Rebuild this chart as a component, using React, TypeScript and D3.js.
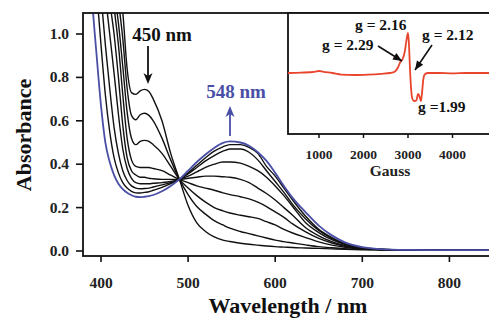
import React, { useEffect, useRef } from "react";
import * as d3 from "d3";

// wavelength grid (nm) shared by all spectra
const wavelengths = [385, 390, 395, 400, 405, 410, 415, 420, 425, 430, 435, 440, 445, 450, 455, 460, 470, 480, 490, 500, 510, 520, 530, 540, 548, 560, 570, 580, 590, 600, 610, 620, 635, 650, 665, 680, 700, 720, 750, 800, 850];

// absorbance traces, first (450 nm band) to last before the final one
const trace1 = [3, 3, 2.8, 2.5, 2.1, 1.75, 1.45, 1.25, 1.1, 0.84, 0.73, 0.722, 0.738, 0.745, 0.735, 0.7, 0.6, 0.45, 0.33, 0.21, 0.13, 0.09, 0.065, 0.05, 0.044, 0.036, 0.031, 0.027, 0.023, 0.02, 0.018, 0.016, 0.014, 0.012, 0.01, 0.008, 0.006, 0.005, 0.004, 0.003, 0.003];
const trace2 = [3, 2.8, 2.5, 2.2, 1.85, 1.55, 1.3, 1.15, 0.98, 0.75, 0.625, 0.605, 0.628, 0.635, 0.625, 0.6, 0.52, 0.42, 0.33, 0.26, 0.205, 0.17, 0.14, 0.12, 0.105, 0.09, 0.08, 0.07, 0.06, 0.05, 0.043, 0.037, 0.028, 0.02, 0.015, 0.011, 0.008, 0.006, 0.004, 0.003, 0.003];
const trace3 = [2.8, 2.5, 2.2, 1.9, 1.6, 1.38, 1.2, 1.05, 0.85, 0.64, 0.52, 0.49, 0.505, 0.51, 0.505, 0.49, 0.45, 0.39, 0.33, 0.29, 0.255, 0.225, 0.2, 0.185, 0.175, 0.165, 0.158, 0.15, 0.135, 0.12, 0.1, 0.083, 0.062, 0.042, 0.027, 0.017, 0.009, 0.006, 0.004, 0.003, 0.003];
const trace4 = [2.6, 2.3, 2.0, 1.7, 1.45, 1.25, 1.12, 0.95, 0.72, 0.52, 0.42, 0.39, 0.385, 0.385, 0.385, 0.38, 0.37, 0.35, 0.33, 0.315, 0.3, 0.29, 0.28, 0.268, 0.26, 0.25, 0.24, 0.225, 0.205, 0.18, 0.155, 0.125, 0.088, 0.058, 0.037, 0.022, 0.011, 0.007, 0.004, 0.003, 0.003];
const trace5 = [2.4, 2.1, 1.8, 1.55, 1.32, 1.15, 1.0, 0.8, 0.58, 0.43, 0.37, 0.35, 0.34, 0.34, 0.335, 0.333, 0.33, 0.33, 0.33, 0.335, 0.34, 0.345, 0.345, 0.342, 0.34, 0.33, 0.315, 0.29, 0.265, 0.235, 0.2, 0.165, 0.107, 0.07, 0.043, 0.025, 0.012, 0.007, 0.004, 0.003, 0.003];
const trace6 = [2.2, 1.9, 1.6, 1.38, 1.18, 1.0, 0.82, 0.63, 0.47, 0.38, 0.335, 0.315, 0.31, 0.31, 0.31, 0.312, 0.315, 0.32, 0.33, 0.345, 0.365, 0.385, 0.4, 0.41, 0.41, 0.405, 0.39, 0.37, 0.34, 0.3, 0.255, 0.205, 0.13, 0.085, 0.052, 0.03, 0.013, 0.007, 0.004, 0.003, 0.003];
const trace7 = [1.9, 1.65, 1.4, 1.18, 0.95, 0.75, 0.57, 0.45, 0.37, 0.325, 0.3, 0.29, 0.287, 0.288, 0.29, 0.295, 0.305, 0.315, 0.33, 0.355, 0.385, 0.415, 0.44, 0.46, 0.47, 0.47, 0.455, 0.42, 0.37, 0.32, 0.27, 0.215, 0.148, 0.095, 0.058, 0.032, 0.014, 0.008, 0.004, 0.003, 0.003];
const trace8 = [1.7, 1.45, 1.2, 0.95, 0.72, 0.55, 0.43, 0.36, 0.315, 0.29, 0.275, 0.268, 0.267, 0.27, 0.273, 0.28, 0.293, 0.31, 0.33, 0.36, 0.395, 0.43, 0.46, 0.48, 0.49, 0.49, 0.478, 0.45, 0.39, 0.345, 0.29, 0.235, 0.16, 0.1, 0.062, 0.034, 0.015, 0.008, 0.004, 0.003, 0.003];
// final spectrum (blue)
const traceFinal = [1.5, 1.15, 0.9, 0.67, 0.5, 0.41, 0.35, 0.31, 0.285, 0.268, 0.257, 0.25, 0.248, 0.25, 0.253, 0.258, 0.275, 0.3, 0.33, 0.37, 0.41, 0.445, 0.475, 0.498, 0.505, 0.5, 0.485, 0.455, 0.415, 0.36, 0.3, 0.245, 0.178, 0.117, 0.072, 0.04, 0.018, 0.009, 0.005, 0.004, 0.004];

const blackTraces = [trace1, trace2, trace3, trace4, trace5, trace6, trace7, trace8];

const xTicks = [400, 500, 600, 700, 800];
const yTicks = [0, 0.2, 0.4, 0.6, 0.8, 1.0];

// EPR inset
const eprField = [300, 600, 900, 1000, 1100, 1300, 1500, 1800, 2100, 2400, 2600, 2700, 2780, 2830, 2880, 2930, 2970, 3000, 3020, 3045, 3070, 3100, 3140, 3190, 3225, 3255, 3290, 3315, 3345, 3380, 3450, 3700, 4000, 4300, 4880];
const eprSignal = [0, 0.01, 0.03, 0.05, 0.03, 0, -0.04, -0.05, -0.04, -0.02, 0, 0.03, 0.15, 0.28, 0.35, 0.55, 0.85, 1.0, 0.75, 0.1, -0.4, -0.65, -0.7, -0.68, -0.52, -0.58, -0.7, -0.5, -0.15, -0.03, 0, 0, -0.01, 0, 0];
const eprTicks = [1000, 2000, 3000, 4000];

const BLUE = "#4a4fa6";
const RED = "#e8452c";
const FONT = "'Liberation Serif', 'Times New Roman', serif";

export default function App() {
  const ref = useRef<SVGSVGElement>(null);

  useEffect(() => {
    const svg = d3.select(ref.current);
    svg.selectAll("*").remove();

    // frame runs past the right edge of the picture, as in the original
    const left = 83, right = 493, top = 13, bottom = 256;
    const x = d3.scaleLinear().domain([400, 800]).range([101, 449.4]);
    const y = d3.scaleLinear().domain([0, 1]).range([251, 34]);

    svg.append("rect").attr("width", 489).attr("height", 320).attr("fill", "#fff");

    svg.append("defs").append("clipPath").attr("id", "plotclip")
      .append("rect").attr("x", left).attr("y", top).attr("width", right - left).attr("height", bottom - top);

    const line = d3.line<number>()
      .x((d, i) => x(wavelengths[i]))
      .y(d => y(d))
      .curve(d3.curveMonotoneX);

    const plot = svg.append("g").attr("clip-path", "url(#plotclip)");
    plot.selectAll(".trace")
      .data(blackTraces)
      .enter()
      .append("path")
      .attr("class", "trace")
      .attr("d", d => line(d))
      .attr("fill", "none")
      .attr("stroke", "#111")
      .attr("stroke-width", 1.4);
    plot.append("path")
      .attr("d", line(traceFinal))
      .attr("fill", "none")
      .attr("stroke", BLUE)
      .attr("stroke-width", 1.8);

    // frame
    svg.append("rect")
      .attr("x", left).attr("y", top).attr("width", right - left).attr("height", bottom - top)
      .attr("fill", "none").attr("stroke", "#111").attr("stroke-width", 1.8);

    // y axis ticks
    svg.selectAll(".ytick").data(yTicks).enter().append("line")
      .attr("x1", left - 7).attr("x2", left).attr("y1", d => y(d)).attr("y2", d => y(d))
      .attr("stroke", "#111").attr("stroke-width", 1.6);
    svg.selectAll(".ylab").data(yTicks).enter().append("text")
      .attr("x", left - 14).attr("y", d => y(d) + 5)
      .attr("text-anchor", "end")
      .attr("font-family", FONT).attr("font-weight", "bold").attr("font-size", 15.5)
      .attr("fill", "#222")
      .text(d => d3.format(".1f")(d));

    // x axis ticks
    svg.selectAll(".xtick").data(xTicks).enter().append("line")
      .attr("x1", d => x(d)).attr("x2", d => x(d)).attr("y1", bottom).attr("y2", bottom + 6)
      .attr("stroke", "#111").attr("stroke-width", 1.6);
    svg.selectAll(".xlab").data(xTicks).enter().append("text")
      .attr("x", d => x(d)).attr("y", 288)
      .attr("text-anchor", "middle")
      .attr("font-family", FONT).attr("font-weight", "bold").attr("font-size", 15.5)
      .attr("fill", "#222")
      .text(d => d);

    svg.append("text")
      .attr("x", 288).attr("y", 313)
      .attr("text-anchor", "middle")
      .attr("font-family", FONT).attr("font-weight", "bold").attr("font-size", 22)
      .attr("fill", "#111")
      .text("Wavelength / nm");
    svg.append("text")
      .attr("transform", "translate(31,135) rotate(-90)")
      .attr("text-anchor", "middle")
      .attr("font-family", FONT).attr("font-weight", "bold").attr("font-size", 22)
      .attr("fill", "#111")
      .text("Absorbance");

    // annotations
    const arrowHead = (g: any, cx: number, tipY: number, dir: number, color: string) => {
      g.append("path")
        .attr("d", `M${cx},${tipY} L${cx - 4.5},${tipY - dir * 11} L${cx},${tipY - dir * 8} L${cx + 4.5},${tipY - dir * 11} Z`)
        .attr("fill", color);
    };
    svg.append("text")
      .attr("x", 162).attr("y", 41).attr("text-anchor", "middle")
      .attr("font-family", FONT).attr("font-weight", "bold").attr("font-size", 19)
      .attr("fill", "#111").text("450 nm");
    svg.append("line").attr("x1", 148).attr("x2", 148).attr("y1", 46).attr("y2", 78)
      .attr("stroke", "#111").attr("stroke-width", 1.8);
    arrowHead(svg, 148, 84, 1, "#111");

    svg.append("text")
      .attr("x", 236).attr("y", 98).attr("text-anchor", "middle")
      .attr("font-family", FONT).attr("font-weight", "bold").attr("font-size", 19)
      .attr("fill", BLUE).text("548 nm");
    svg.append("line").attr("x1", 230).attr("x2", 230).attr("y1", 136).attr("y2", 112)
      .attr("stroke", BLUE).attr("stroke-width", 1.8);
    arrowHead(svg, 230, 106, -1, BLUE);

    // inset EPR
    const iL = 288, iR = 493, iT = 13, iB = 134;
    const ix = d3.scaleLinear().domain([1000, 4000]).range([319, 452.5]);
    const iy = d3.scaleLinear().domain([-1.525, 1.5]).range([iB, iT]);
    svg.append("rect").attr("x", iL).attr("y", iT).attr("width", iR - iL).attr("height", iB - iT)
      .attr("fill", "#fff").attr("stroke", "#111").attr("stroke-width", 1.8);
    const eprLine = d3.line<number>()
      .x((d, i) => ix(eprField[i]))
      .y(d => iy(d))
      .curve(d3.curveMonotoneX);
    svg.append("path").attr("d", eprLine(eprSignal))
      .attr("fill", "none").attr("stroke", RED).attr("stroke-width", 1.8);

    svg.selectAll(".itick").data(eprTicks).enter().append("line")
      .attr("x1", d => ix(d)).attr("x2", d => ix(d)).attr("y1", iB).attr("y2", iB + 4)
      .attr("stroke", "#111").attr("stroke-width", 1.5);
    svg.selectAll(".ilab").data(eprTicks).enter().append("text")
      .attr("x", d => ix(d)).attr("y", 159).attr("text-anchor", "middle")
      .attr("font-family", FONT).attr("font-weight", "bold").attr("font-size", 13.5)
      .attr("fill", "#222").text(d => d);
    svg.append("text").attr("x", 390).attr("y", 176).attr("text-anchor", "middle")
      .attr("font-family", FONT).attr("font-weight", "bold").attr("font-size", 15.5)
      .attr("fill", "#222").text("Gauss");

    const gLabel = (tx: number, ty: number, t: string) =>
      svg.append("text").attr("x", tx).attr("y", ty)
        .attr("font-family", FONT).attr("font-weight", "bold").attr("font-size", 15.5)
        .attr("fill", "#111").text(t);
    gLabel(355, 30, "g = 2.16");
    gLabel(322, 50, "g = 2.29");
    gLabel(422, 40, "g = 2.12");
    gLabel(418, 112, "g =1.99");

    const slantArrow = (x1: number, y1: number, x2: number, y2: number) => {
      svg.append("line").attr("x1", x1).attr("y1", y1).attr("x2", x2).attr("y2", y2)
        .attr("stroke", "#111").attr("stroke-width", 1.6);
      const a = Math.atan2(y2 - y1, x2 - x1);
      const L = 9, W = 3.8;
      const bx = x2 - L * Math.cos(a), by = y2 - L * Math.sin(a);
      svg.append("path")
        .attr("d", `M${x2},${y2} L${bx + W * Math.sin(a)},${by - W * Math.cos(a)} L${bx - W * Math.sin(a)},${by + W * Math.cos(a)} Z`)
        .attr("fill", "#111");
    };
    slantArrow(378, 46, 402, 61);
    slantArrow(432, 45, 415, 70);
  }, []);

  return (
    <svg ref={ref} width={489} height={320}
      style={{ position: "absolute", left: 0, top: 0, display: "block" }} />
  );
}
